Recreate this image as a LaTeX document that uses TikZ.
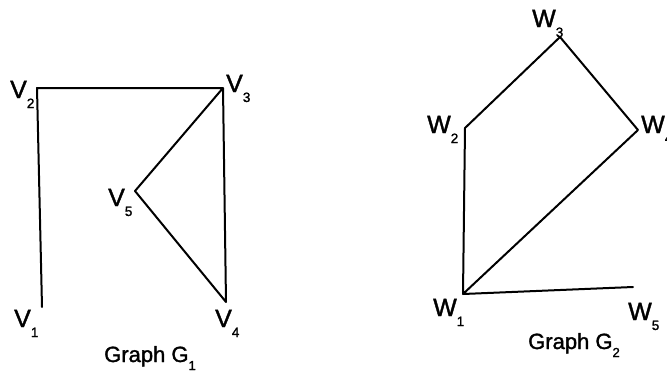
\documentclass[tikz,border=0pt]{standalone}
\usepackage{fontspec}
\setmainfont{Liberation Sans}[FakeBold=1.5]
\newcommand\vlab[2]{#1\raisebox{-10pt}{\fontsize{13.5}{13.5}\selectfont #2}}
\begin{document}
\begin{tikzpicture}[x=1pt,y=-1pt,
  edge/.style={line width=2pt,line cap=round,line join=round},
  lab/.style={anchor=base west,inner sep=0pt,font=\fontsize{25}{25}\selectfont},
  caption/.style={anchor=base west,inner sep=0pt,font=\fontsize{22}{22}\selectfont}]
\useasboundingbox[fill=white] (0,0) rectangle (667,376);
% Graph G1
\coordinate (v1) at (42,307);
\coordinate (v2) at (37,88);
\coordinate (v3) at (223,88);
\coordinate (v4) at (226,302);
\coordinate (v5) at (135,191);
\draw[edge] (v1) -- (v2) -- (v3) -- (v4) -- (v5) -- (v3);
\node[lab] (l2) at (10,98) {\vlab{V}{2}};
\node[lab] (l3) at (226,92) {\vlab{V}{3}};
\node[lab] (l5) at (108,206) {\vlab{V}{5}};
\node[lab] (l1) at (14,327) {\vlab{V}{1}};
\node[lab] (l4) at (215,327) {\vlab{V}{4}};
\node[caption] (g1) at (104,362) {Graph G\raisebox{-8pt}{\fontsize{13}{13}\selectfont 1}};
% Graph G2
\coordinate (w1) at (463,294);
\coordinate (w2) at (465,128);
\coordinate (w3) at (560,37);
\coordinate (w4) at (638,130);
\coordinate (w5) at (633,287);
\draw[edge] (w1) -- (w2) -- (w3) -- (w4) -- (w1) -- (w5);
\node[lab] (m3) at (532,27) {\vlab{W}{3}};
\node[lab] (m2) at (427,133) {\vlab{W}{2}};
\node[lab] (m4) at (641,133) {\vlab{W}{4}};
\node[lab] (m1) at (433,316) {\vlab{W}{1}};
\node[lab] (m5) at (628,320) {\vlab{W}{5}};
\node[caption] (g2) at (528,349) {Graph G\raisebox{-8pt}{\fontsize{13}{13}\selectfont 2}};
\end{tikzpicture}
\end{document}
